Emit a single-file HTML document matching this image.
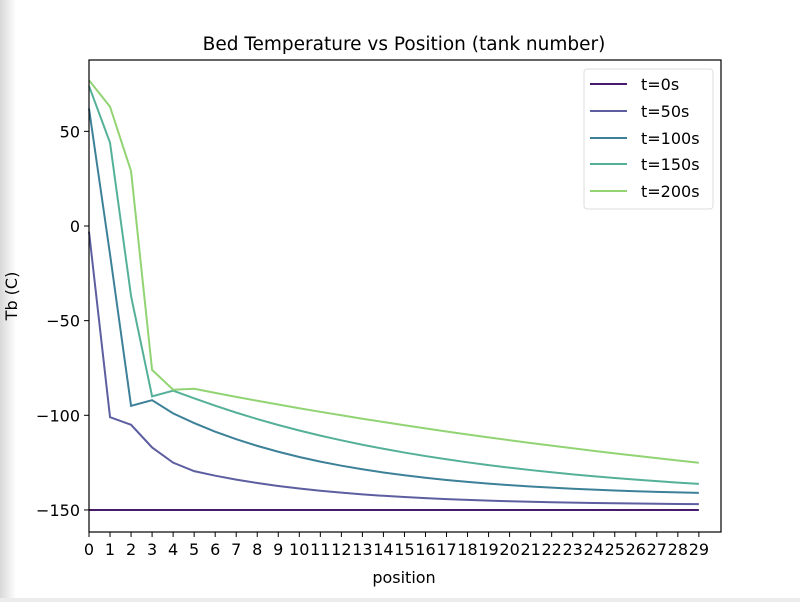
<!DOCTYPE html>
<html><head><meta charset="utf-8"><style>
body{margin:0;width:800px;height:602px;overflow:hidden;background:#fff;font-family:"Liberation Sans","DejaVu Sans",sans-serif}
</style></head><body>
<svg width="800" height="602" xmlns="http://www.w3.org/2000/svg" font-family="DejaVu Sans, Liberation Sans, sans-serif">
<defs><linearGradient id="g" x1="0" x2="1"><stop offset="0" stop-color="#d8d8d8"/><stop offset="1" stop-color="#ffffff"/></linearGradient></defs>
<rect x="0" y="0" width="16" height="602" fill="url(#g)"/>
<rect x="0" y="598" width="800" height="4" fill="#ececec"/>
<text x="404" y="50" font-size="18.5" text-anchor="middle">Bed Temperature vs Position (tank number)</text>
<g id="plot"></g>
<rect x="89" y="60" width="632" height="472" fill="none" stroke="#000" stroke-width="1.2"/>
<text x="404" y="583" font-size="16" text-anchor="middle">position</text>
<text transform="translate(17,296) rotate(-90)" font-size="16" text-anchor="middle">Tb (C)</text>
<g font-size="16">
<rect x="584" y="69" width="129" height="140" rx="3" fill="#fff" fill-opacity="0.8" stroke="#ddd"/>
<line x1="590" x2="627" y1="84" y2="84" stroke="#481a6c" stroke-width="2"/><text x="641" y="90">t=0s</text>
<line x1="590" x2="627" y1="111" y2="111" stroke="#5c5ea0" stroke-width="2"/><text x="641" y="117">t=50s</text>
<line x1="590" x2="627" y1="138" y2="138" stroke="#3d8199" stroke-width="2"/><text x="641" y="144">t=100s</text>
<line x1="590" x2="627" y1="164" y2="164" stroke="#55b09a" stroke-width="2"/><text x="641" y="170">t=150s</text>
<line x1="590" x2="627" y1="191" y2="191" stroke="#92d474" stroke-width="2"/><text x="641" y="197">t=200s</text>
</g>
</svg>
<script>
var ns="http://www.w3.org/2000/svg",g=document.getElementById('plot');
function X(i){return 89+i*21.03}function Y(v){return 226-v*1.893}
function el(t,a){var e=document.createElementNS(ns,t);for(var k in a)e.setAttribute(k,a[k]);g.appendChild(e);return e}
for(var i=0;i<30;i++){el('line',{x1:X(i),x2:X(i),y1:532,y2:537,stroke:'#000'});var t=el('text',{x:X(i),y:555,'font-size':16,'text-anchor':'middle'});t.textContent=i;}
[50,0,-50,-100,-150].forEach(function(v){el('line',{x1:84,x2:89,y1:Y(v),y2:Y(v),stroke:'#000'});var t=el('text',{x:80,y:Y(v)+6,'font-size':16,'text-anchor':'end'});t.textContent=(v<0?'\u2212'+(-v):v);});
function tail(head,x0,start,asym,L){var a=head.slice();for(var x=x0+1;x<30;x++)a.push(asym+(start-asym)*Math.exp(-(x-x0)/L));return a}
var S=[
['#481a6c',Array(30).fill(-150)],
['#5c5ea0',tail([-3,-101,-105,-117,-125,-129.5],5,-129.5,-147.5,7)],
['#3d8199',tail([62,-15,-95,-92,-99],4,-99,-143,8.1)],
['#55b09a',tail([74,44,-37,-90,-87,-91],5,-91,-145,13.2)],
['#92d474',tail([77,63,29,-76,-86.5,-86],5,-86,-170,38.4)]];
S.forEach(function(s){el('polyline',{points:s[1].map(function(v,i){return X(i)+','+Y(v)}).join(' '),fill:'none',stroke:s[0],'stroke-width':2});});
</script>
</body></html>
